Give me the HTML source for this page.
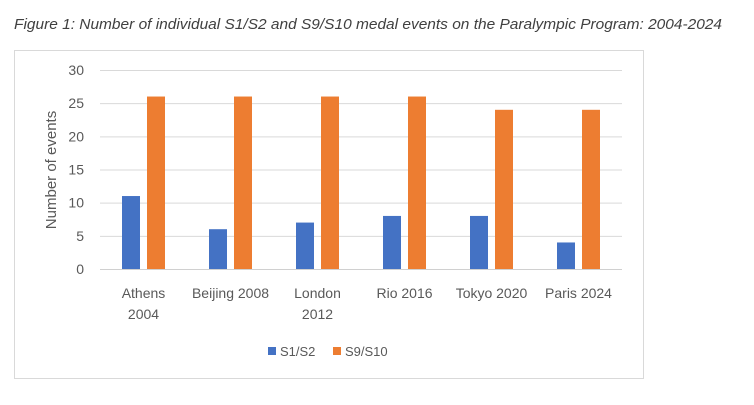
<!DOCTYPE html>
<html><head><meta charset="utf-8"><style>
body{margin:0;background:#fff;width:754px;height:400px;overflow:hidden;font-family:"Liberation Sans",sans-serif}
</style></head><body>
<svg width="754" height="400" font-family="Liberation Sans, sans-serif">
<text x="14" y="29" font-size="15" font-style="italic" fill="#404040" textLength="708" lengthAdjust="spacingAndGlyphs">Figure 1: Number of individual S1/S2 and S9/S10 medal events on the Paralympic Program: 2004-2024</text>
<rect x="14.5" y="50.5" width="629" height="328" fill="#fff" stroke="#d9d9d9"/>
<g id="grid"></g><g id="bars"></g><g id="labels"></g>
<text transform="translate(56,170) rotate(-90)" text-anchor="middle" font-size="15" fill="#595959">Number of events</text>
<rect x="268" y="347" width="8" height="8" fill="#4472c4"/>
<text x="280" y="356" font-size="13" fill="#595959">S1/S2</text>
<rect x="333" y="347" width="8" height="8" fill="#ed7d31"/>
<text x="345" y="356" font-size="13" fill="#595959">S9/S10</text>
</svg>
<script>
const categories=[["Athens","2004"],["Beijing 2008"],["London","2012"],["Rio 2016"],["Tokyo 2020"],["Paris 2024"]];
const s1s2=[11,6,7,8,8,4];
const s9s10=[26,26,26,26,24,24];
const yTicks=[0,5,10,15,20,25,30];
const NS="http://www.w3.org/2000/svg";
const x0=100,x1=622,yb=269,yt=70,ymax=30;
const bw=(x1-x0)/categories.length;
const y=v=>yb-(yb-yt)*v/ymax;
function mk(tag,attrs,parent){const e=document.createElementNS(NS,tag);for(const k in attrs)e.setAttribute(k,attrs[k]);document.getElementById(parent).appendChild(e);return e;}
yTicks.forEach(t=>{
 const l=mk("line",{x1:x0,x2:x1,y1:y(t)+.5,y2:y(t)+.5,stroke:t===0?"#d0d0d0":"#d9d9d9","stroke-width":1},"grid");
 
 
 const tx=mk("text",{x:84,y:y(t)+5,"text-anchor":"end","font-size":14,fill:"#595959"},"labels");
 tx.textContent=t;
 
 
});
categories.forEach((c,i)=>{
 const cx=x0+bw*(i+0.5);
 const b1=mk("rect",{x:cx-21.5,y:y(s1s2[i]),width:18,height:yb-y(s1s2[i]),fill:"#4472c4"},"bars");
 
 
 const b2=mk("rect",{x:cx+3.5,y:y(s9s10[i]),width:18,height:yb-y(s9s10[i]),fill:"#ed7d31"},"bars");
 
 
 c.forEach((line,j)=>{
  const t=mk("text",{x:cx,y:298+j*21,"text-anchor":"middle","font-size":14,fill:"#595959"},"labels");
  t.textContent=line;
  
  
 });
});
</script>
</body></html>
